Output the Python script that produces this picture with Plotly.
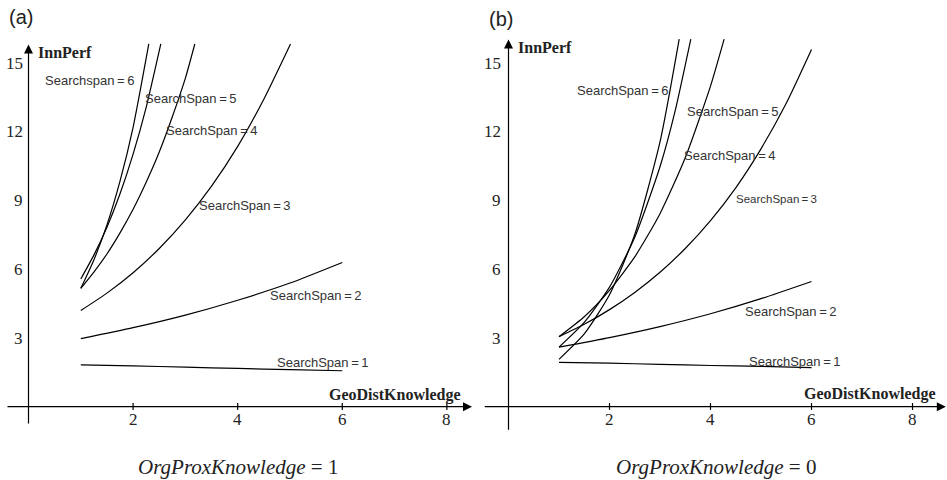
import plotly.graph_objects as go

# ---------------- data ----------------
# Panel (a): OrgProxKnowledge = 1
a_ss1_x = [1, 2, 3, 4, 5, 6]
a_ss1_y = [1.83, 1.78, 1.73, 1.67, 1.62, 1.57]
a_ss2_x = [1, 2, 3, 4, 5, 6]
a_ss2_y = [2.97, 3.45, 4.0, 4.65, 5.4, 6.3]
a_ss3_x = [1, 1.5, 2, 2.5, 3, 3.5, 4, 4.5, 5.01]
a_ss3_y = [4.2, 4.96, 5.85, 6.91, 8.16, 9.63, 11.37, 13.43, 15.84]
a_ss4_x = [1, 1.25, 1.5, 1.75, 2, 2.25, 2.5, 2.75, 3, 3.18]
a_ss4_y = [5.17, 5.88, 6.67, 7.59, 8.62, 9.8, 11.12, 12.66, 14.35, 15.84]
a_ss5_x = [1, 1.25, 1.5, 1.75, 2, 2.25, 2.53]
a_ss5_y = [5.58, 6.62, 7.84, 9.3, 11.03, 13.07, 15.84]
a_ss6_x = [1, 1.25, 1.5, 1.75, 2, 2.3]
a_ss6_y = [5.17, 6.41, 7.94, 9.85, 12.2, 15.84]

# Panel (b): OrgProxKnowledge = 0
b_ss1_x = [1, 2, 3, 4, 5, 6]
b_ss1_y = [1.94, 1.9, 1.85, 1.8, 1.76, 1.71]
b_ss2_x = [1, 2, 3, 4, 5, 6]
b_ss2_y = [2.6, 3.02, 3.5, 4.06, 4.72, 5.47]
b_ss3_x = [1, 1.5, 2, 2.5, 3, 3.5, 4, 4.5, 5, 5.5, 6]
b_ss3_y = [3.06, 3.6, 4.24, 4.99, 5.87, 6.91, 8.13, 9.56, 11.26, 13.25, 15.6]
b_ss4_x = [1, 1.5, 2, 2.5, 3, 3.5, 4, 4.27]
b_ss4_y = [3.06, 3.93, 5.08, 6.54, 8.43, 10.87, 14.0, 16.05]
b_ss5_x = [1, 1.5, 2, 2.5, 3, 3.3, 3.61]
b_ss5_y = [2.6, 3.68, 5.22, 7.4, 10.48, 12.92, 16.05]
b_ss6_x = [1, 1.5, 2, 2.5, 3, 3.38]
b_ss6_y = [2.07, 3.18, 4.89, 7.52, 11.56, 16.05]

x_ticks = [2, 4, 6, 8]
y_ticks = [3, 6, 9, 12, 15]

a_labels = ["Searchspan\u2009=\u20096", "SearchSpan\u2009=\u20095", "SearchSpan\u2009=\u20094",
            "SearchSpan\u2009=\u20093", "SearchSpan\u2009=\u20092", "SearchSpan\u2009=\u20091"]
a_label_x = [0.27, 2.18, 2.6, 3.22, 4.57, 4.71]
a_label_y = [14.24, 13.44, 12.05, 8.78, 4.85, 1.92]
b_labels = ["SearchSpan\u2009=\u20096", "SearchSpan\u2009=\u20095", "SearchSpan\u2009=\u20094",
            "SearchSpan\u2009=\u20093", "SearchSpan\u2009=\u20092", "SearchSpan\u2009=\u20091"]
b_label_x = [1.32, 3.5, 3.44, 4.47, 4.64, 4.72]
b_label_y = [13.83, 12.88, 10.99, 9.06, 4.15, 1.97]
b_label_size = [13, 13, 13, 11.5, 13, 13]

# ---------------- figure ----------------
fig = go.Figure()
SERIF = "Liberation Serif, Times New Roman, serif"
SANS = "Liberation Sans, Arial, sans-serif"
LINE = dict(color="black", width=1.2, shape="spline", smoothing=0.6)

a_series = [(a_ss1_x, a_ss1_y), (a_ss2_x, a_ss2_y), (a_ss3_x, a_ss3_y),
            (a_ss4_x, a_ss4_y), (a_ss5_x, a_ss5_y), (a_ss6_x, a_ss6_y)]
b_series = [(b_ss1_x, b_ss1_y), (b_ss2_x, b_ss2_y), (b_ss3_x, b_ss3_y),
            (b_ss4_x, b_ss4_y), (b_ss5_x, b_ss5_y), (b_ss6_x, b_ss6_y)]

for xs, ys in a_series:
    fig.add_trace(go.Scatter(x=xs, y=ys, mode="lines", line=LINE,
                             xaxis="x", yaxis="y", showlegend=False, hoverinfo="skip"))
for xs, ys in b_series:
    fig.add_trace(go.Scatter(x=xs, y=ys, mode="lines", line=LINE,
                             xaxis="x2", yaxis="y2", showlegend=False, hoverinfo="skip"))

annotations = []
shapes = []

def axis_set(xr, yr, x_lo, x_hi, y_lo, y_hi, ylab_x, innperf_xy, geo_xy, labels, lx, ly, lsize, caption):
    # axis arrows
    annotations.append(dict(xref=xr, yref=yr, axref=xr, ayref=yr, x=x_hi, y=0, ax=x_lo, ay=0,
                            text="", showarrow=True, arrowhead=2, arrowsize=1.5,
                            arrowwidth=1.2, arrowcolor="black", standoff=0, startstandoff=0))
    annotations.append(dict(xref=xr, yref=yr, axref=xr, ayref=yr, x=0, y=y_hi, ax=0, ay=y_lo,
                            text="", showarrow=True, arrowhead=2, arrowsize=1.5,
                            arrowwidth=1.2, arrowcolor="black", standoff=0, startstandoff=0))
    for t in x_ticks:
        shapes.append(dict(type="line", xref=xr, yref=yr, x0=t, x1=t, y0=0.16, y1=-0.14,
                           line=dict(color="black", width=1.2)))
        annotations.append(dict(xref=xr, yref=yr, x=t, y=-0.54, text=str(t), showarrow=False,
                                font=dict(family=SERIF, size=17, color="#222"),
                                xanchor="center", yanchor="middle"))
    for t in y_ticks:
        annotations.append(dict(xref=xr, yref=yr, x=ylab_x, y=t, text=str(t), showarrow=False,
                                font=dict(family=SERIF, size=17, color="#222"),
                                xanchor="right", yanchor="middle"))
    annotations.append(dict(xref=xr, yref=yr, x=innperf_xy[0], y=innperf_xy[1],
                            text="<b>InnPerf</b>", showarrow=False,
                            font=dict(family=SERIF, size=16, color="#222"),
                            xanchor="left", yanchor="middle"))
    annotations.append(dict(xref=xr, yref=yr, x=geo_xy[0], y=geo_xy[1],
                            text="<b>GeoDistKnowledge</b>", showarrow=False,
                            font=dict(family=SERIF, size=16, color="#222"),
                            xanchor="right", yanchor="middle"))
    for txt, x, y, s in zip(labels, lx, ly, lsize):
        annotations.append(dict(xref=xr, yref=yr, x=x, y=y, text=txt, showarrow=False,
                                font=dict(family=SANS, size=s, color="#333"),
                                xanchor="left", yanchor="middle"))
    annotations.append(dict(xref=xr, yref=yr, x=caption[0], y=caption[1], text=caption[2],
                            showarrow=False, font=dict(family=SERIF, size=21, color="#222"),
                            xanchor="center", yanchor="middle"))

axis_set("x", "y", -0.43, 8.48, -0.8, 15.82, -0.067, (0.14, 15.46), (8.3, 0.51),
         a_labels, a_label_x, a_label_y, [13] * 6,
         (4.0, -2.62, "<i>OrgProxKnowledge</i> = 1"))
axis_set("x2", "y2", -0.5, 8.66, -1.07, 16.04, -0.109, (0.14, 15.68), (8.5, 0.55),
         b_labels, b_label_x, b_label_y, b_label_size,
         (4.1, -2.62, "<i>OrgProxKnowledge</i> = 0"))

annotations.append(dict(xref="paper", yref="paper", x=7 / 947, y=1 - 17 / 480, text="(a)",
                        showarrow=False, font=dict(family=SANS, size=20, color="#222"),
                        xanchor="left", yanchor="middle"))
annotations.append(dict(xref="paper", yref="paper", x=487 / 947, y=1 - 19 / 480, text="(b)",
                        showarrow=False, font=dict(family=SANS, size=20, color="#222"),
                        xanchor="left", yanchor="middle"))

hidden = dict(visible=False, showgrid=False, zeroline=False, fixedrange=True)
fig.update_layout(
    width=947, height=480,
    margin=dict(l=0, r=0, t=0, b=0),
    paper_bgcolor="white", plot_bgcolor="white",
    xaxis=dict(domain=[0, 0.5], range=[-0.545, 8.509], **hidden),
    yaxis=dict(domain=[0, 1], range=[-3.2, 17.76], **hidden),
    xaxis2=dict(domain=[0.5, 1], range=[-0.693, 8.683], anchor="y2", **hidden),
    yaxis2=dict(domain=[0, 1], range=[-3.2, 17.76], anchor="x2", **hidden),
    annotations=annotations,
    shapes=shapes,
    showlegend=False,
)

fig.write_html("out.html", config={"staticPlot": True},
               post_script="document.body.style.margin='0';document.body.style.overflow='hidden';")
